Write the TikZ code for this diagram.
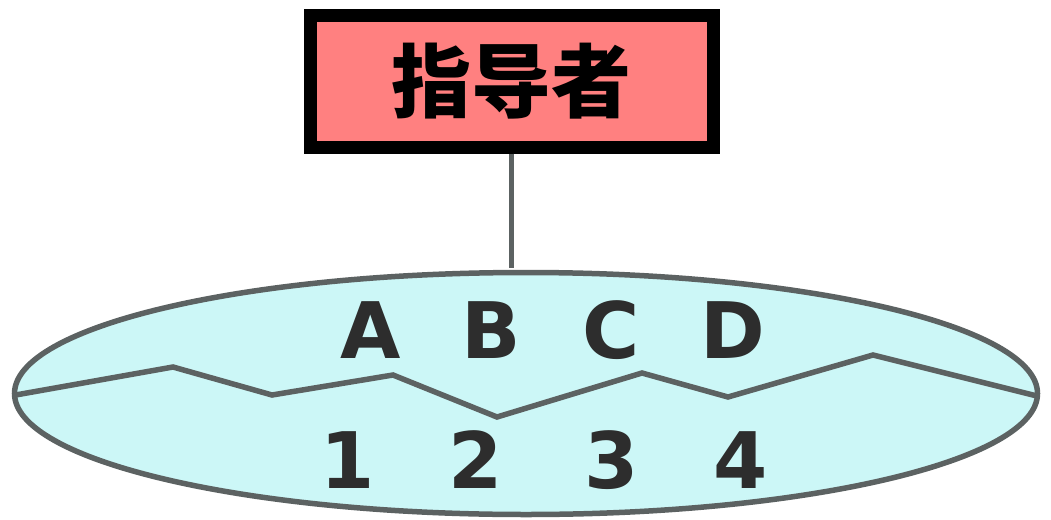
\documentclass[tikz,border=0pt]{standalone}
\usepackage{fontspec}
\newfontfamily\cjk{Noto Sans CJK SC Black}
\newfontfamily\lat{DejaVu Sans}
\usetikzlibrary{shapes.geometric}
\definecolor{boxfill}{RGB}{255,128,128}
\definecolor{ellfill}{RGB}{204,247,247}
\definecolor{edge}{RGB}{92,98,98}
\definecolor{txt}{RGB}{45,45,45}
\tikzset{
  headbox/.style={draw=black, fill=boxfill, line width=13pt, minimum width=403pt, minimum height=131pt, inner sep=0pt, font=\cjk\fontsize{80}{82}\selectfont},
  cloud/.style={ellipse, draw=edge, fill=ellfill, line width=5.5pt, minimum width=1023pt, minimum height=242pt, inner sep=0pt},
  lab/.style={anchor=base, text=txt, inner sep=0pt, font=\lat\bfseries\fontsize{78}{80}\selectfont},
  conn/.style={draw=edge, line width=5.5pt}
}
\begin{document}
\begin{tikzpicture}[x=1pt,y=-1pt]
\useasboundingbox (0,0) rectangle (1051,519);
\node[headbox] (head) at (511.5,81.5) {指导者};
\node[cloud] (ell) at (526,393.5) {};
\coordinate (top) at (head.south |- ell.north);
\draw[conn] (head.south) -- ([yshift=2pt]top);
\begin{scope}
\clip (526,393.5) ellipse [x radius=511, y radius=121];
\draw[conn, line join=miter] (10,396) -- (173,367) -- (272,395) -- (393,375) -- (497,417) -- (642,373) -- (728,397) -- (873,355) -- (1045,398);
\end{scope}
\node[lab] (a) at (371,358) {A};
\node[lab] (b) at (491,358) {B};
\node[lab] (c) at (611,358) {C};
\node[lab] (d) at (733,358) {D};
\node[lab] (n1) at (348,488) {1};
\node[lab] (n2) at (476,488) {2};
\node[lab] (n3) at (612,488) {3};
\node[lab] (n4) at (741,488) {4};
\end{tikzpicture}
\end{document}
